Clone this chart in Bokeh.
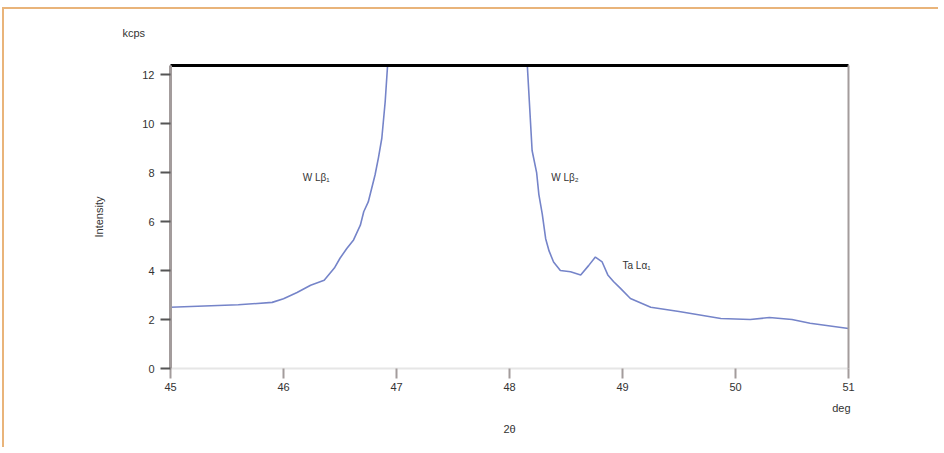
from bokeh.plotting import figure
from bokeh.models import Range1d, LinearAxis, Label, FixedTicker, Title
from bokeh.embed import file_html
from bokeh.resources import INLINE

# Left branch of the spectrum (2theta in deg, intensity in kcps)
left_x = [45.0, 45.3, 45.6, 45.9, 46.0, 46.12, 46.24, 46.36, 46.45, 46.5, 46.56,
          46.62, 46.68, 46.71, 46.75, 46.78, 46.81, 46.84, 46.87, 46.9, 46.93]
left_y = [2.5, 2.55, 2.6, 2.7, 2.85, 3.1, 3.4, 3.6, 4.1, 4.5, 4.9,
          5.25, 5.85, 6.4, 6.8, 7.35, 7.9, 8.6, 9.4, 10.9, 13.0]

# Right branch
right_x = [48.15, 48.2, 48.24, 48.26, 48.29, 48.32, 48.35, 48.39, 48.45, 48.54,
           48.63, 48.7, 48.76, 48.82, 48.87, 48.92, 48.98, 49.07, 49.25, 49.5,
           49.87, 50.13, 50.3, 50.5, 50.66, 51.0]
right_y = [13.0, 8.9, 8.0, 7.1, 6.3, 5.3, 4.8, 4.35, 4.0, 3.95,
           3.82, 4.2, 4.55, 4.35, 3.82, 3.55, 3.28, 2.86, 2.5, 2.33,
           2.04, 2.0, 2.08, 2.0, 1.85, 1.63]

x_ticks = [45, 46, 47, 48, 49, 50, 51]
y_ticks = [0, 2, 4, 6, 8, 10, 12]

FONT = "Liberation Sans"
TXT = "#333333"

p = figure(width=936, height=440, output_backend="svg", toolbar_location=None,
           x_range=Range1d(45, 51), y_range=Range1d(0, 12.37),
           min_border_left=166, min_border_right=92, min_border_top=55,
           min_border_bottom=81)
p.styles = {"border-top": "2px solid #e9b47a", "border-left": "2px solid #e9b47a",
            "margin-left": "2px", "margin-top": "7px"}
p.grid.visible = False
p.outline_line_color = None
p.background_fill_color = "white"
p.border_fill_color = "white"

# unit label of the y axis as the figure title (blank second line lifts it)
p.title.text = "kcps\n\u00a0"
p.title.align = "left"
p.title.offset = -48
p.title.standoff = 30
p.title.text_font = FONT
p.title.text_font_size = "11px"
p.title.text_font_style = "normal"
p.title.text_color = TXT

p.line(left_x, left_y, line_color="#7584c9", line_width=1.6)
p.line(right_x, right_y, line_color="#7584c9", line_width=1.6)

# axes
xa = p.xaxis[0]
xa.ticker = FixedTicker(ticks=x_ticks)
xa.minor_tick_line_color = None
xa.axis_line_color = "#e6e6e6"
xa.axis_line_width = 2
xa.major_tick_line_color = "#a39c9c"
xa.major_tick_line_width = 2
xa.major_tick_out = 10
xa.major_tick_in = 0
xa.major_label_text_font = FONT
xa.major_label_text_font_size = "11px"
xa.major_label_text_color = TXT
xa.major_label_standoff = 4

ya = p.yaxis[0]
ya.ticker = FixedTicker(ticks=y_ticks)
ya.minor_tick_line_color = None
ya.axis_line_color = "#a39c9c"
ya.axis_line_width = 3
ya.major_tick_line_color = "#555555"
ya.major_tick_line_width = 2
ya.major_tick_out = 10
ya.major_tick_in = 0
ya.major_label_text_font = FONT
ya.major_label_text_font_size = "11px"
ya.major_label_text_color = TXT
ya.major_label_standoff = 6
ya.axis_label = "Intensity"
ya.axis_label_text_font = FONT
ya.axis_label_text_font_size = "11px"
ya.axis_label_text_font_style = "normal"
ya.axis_label_text_color = TXT
ya.axis_label_standoff = 34

top = LinearAxis(ticker=FixedTicker(ticks=[]), major_tick_line_color=None,
                 minor_tick_line_color=None, axis_line_color="black",
                 axis_line_width=3)
p.add_layout(top, "above")
right = LinearAxis(ticker=FixedTicker(ticks=[]), major_tick_line_color=None,
                   minor_tick_line_color=None, axis_line_color="#a39c9c",
                   axis_line_width=2)
p.add_layout(right, "right")

# unit label of the x axis, then the x axis title
p.add_layout(Title(text="deg", align="right", offset=-2, standoff=12,
                   text_font=FONT, text_font_size="11px",
                   text_font_style="normal", text_color=TXT), "below")
p.add_layout(Title(text="2θ", align="center", offset=-12, standoff=2,
                   text_font=FONT, text_font_size="11px",
                   text_font_style="normal", text_color=TXT), "below")

def lab(x, y, text):
    p.add_layout(Label(x=x, y=y, text=text, text_font=FONT,
                       text_font_size="10px", text_color=TXT,
                       text_align="left", text_baseline="middle"))

lab(46.17, 7.8, "W Lβ₁")
lab(48.37, 7.8, "W Lβ₂")
lab(49.0, 4.2, "Ta Lα₁")

open("out.html", "w").write(file_html(p, INLINE))
